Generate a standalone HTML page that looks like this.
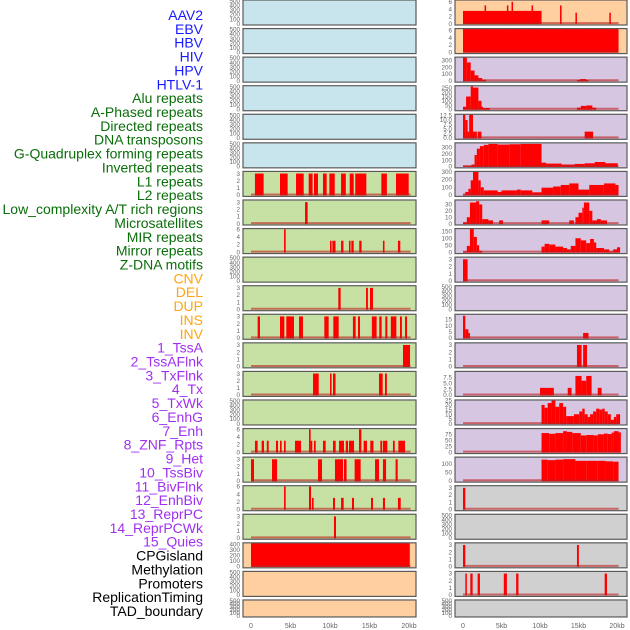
<!DOCTYPE html>
<html><head><meta charset="utf-8">
<style>
html,body{margin:0;padding:0;background:#fff;}
svg{display:block;font-family:"Liberation Sans",sans-serif;}
</style></head>
<body>
<svg id="chart" width="630" height="630" viewBox="0 0 630 630" xmlns="http://www.w3.org/2000/svg">
<g id="labels"></g>
<g id="panels"></g>
<g id="xaxes"></g>
</svg>
<script>
const featureLabels = ["AAV2","EBV","HBV","HIV","HPV","HTLV-1","Alu repeats","A-Phased repeats","Directed repeats","DNA transposons","G-Quadruplex forming repeats","Inverted repeats","L1 repeats","L2 repeats","Low_complexity A/T rich regions","Microsatellites","MIR repeats","Mirror repeats","Z-DNA motifs","CNV","DEL","DUP","INS","INV","1_TssA","2_TssAFlnk","3_TxFlnk","4_Tx","5_TxWk","6_EnhG","7_Enh","8_ZNF_Rpts","9_Het","10_TssBiv","11_BivFlnk","12_EnhBiv","13_ReprPC","14_ReprPCWk","15_Quies","CPGisland","Methylation","Promoters","ReplicationTiming","TAD_boundary"];
const labelGroupSizes = [6,13,5,15,5];
const labelGroupColors = ["#1a1aff","#0a6e0a","#ffa510","#a030f0","#000000"];
const xTickValues = [0,5,10,15,20];
const xTickLabels = ["0","5kb","10kb","15kb","20kb"];

const ticks500 = [0,100,200,300,400,500];
const ticks3 = [0,1,2,3];
const ticks6 = [0,2,4,6];

const left06 = [[0.5,1.6,3],[3.67,4.64,3],[5.7,6.67,3],[7.3,7.8,3],[7.97,8.48,3],[9.11,9.58,3],[9.92,10.6,3],[11.4,12.0,3],[12.5,13.0,3],[13.2,14.6,3],[16.5,17.2,3],[18.35,19.96,3]];
const left07 = [[6.84,7.17,3]];
const left08 = [[4.18,4.39,6],[10.0,10.2,3],[10.3,10.7,3],[11.4,11.7,3],[12.4,12.6,3],[12.7,13.0,3],[13.7,14.0,3],[16.7,16.9,3],[18.6,18.9,3]];
const left10 = [[11.05,11.35,3],[14.56,14.8,3],[15.06,15.44,3]];
const left11 = [[0.84,1.14,3],[3.67,4.22,3],[4.47,5.44,3],[6.08,6.58,3],[9.28,9.83,3],[10.42,11.1,3],[12.9,13.25,3],[13.54,13.8,3],[15.3,15.9,3],[16.24,16.54,3],[17.0,17.26,3],[17.7,18.4,3],[18.86,19.1,3],[19.5,19.75,3]];
const left12 = [[19.24,20.13,3]];
const left13 = [[7.85,8.57,3],[10.0,10.2,3],[10.38,10.7,3],[16.2,16.67,3],[16.96,17.2,3]];
const left15 = [[0.5,0.84,3],[1.35,1.65,3],[2.0,2.24,3],[3.16,3.42,3],[3.67,3.88,3],[4.18,4.39,3],[5.57,6.33,3],[7.34,7.55,6],[7.55,7.76,3],[7.97,8.19,3],[9.11,9.45,3],[10.38,10.72,3],[11.14,11.77,3],[12.0,12.28,3],[12.4,13.04,3],[13.67,13.97,6],[14.26,14.68,3],[15.1,15.5,3],[16.37,16.6,3],[16.7,17.26,3],[17.97,18.2,3],[18.65,19.5,3]];
const left16 = [[0,0.38,3],[2.66,3.3,3],[8.48,8.99,3],[10.63,11.65,3],[11.77,12.1,3],[13.12,13.88,3],[15.7,16.2,3],[16.7,17.1,3],[18.3,18.57,3]];
const left17 = [[4.18,4.39,6],[7.34,7.6,6],[7.72,7.93,3],[10.38,10.63,3],[11.4,11.73,3],[12.78,13.04,3],[15.19,15.44,3],[16.7,16.96,3],[18.6,18.95,3]];
const left18 = [[10.5,10.76,3]];
const left19 = [[0,20.1,440]];

const right00 = [[0,10.2,3.5],[2.8,3.0,5],[5.7,5.9,5],[6.3,6.5,6],[8.9,9.1,5],[12.6,12.8,5],[14.6,14.8,3],[19.0,19.2,3]];
const right01 = [[0,20.2,7]];
const right02 = [[0,0.5,345],[0.5,1.0,270],[1.0,1.5,150],[1.5,2.0,80],[2.0,2.5,40],[2.5,3.0,15],[14.8,15.2,10],[15.2,16.0,25],[16.0,16.3,10]];
const right03 = [[0,0.4,30],[0.4,1.0,150],[1.0,1.3,270],[1.3,2.0,255],[2.0,2.4,100],[2.4,2.6,30],[2.6,3.5,15],[14.8,15.3,20],[15.3,16.0,40],[16.0,16.8,45],[16.8,17.3,20]];
const right04 = [[0,0.3,13],[0.3,0.6,10],[0.6,0.8,3.5],[0.8,1.3,13],[1.3,1.8,3.5],[1.9,2.4,3.5],[15.8,16.9,3.5]];
const right05 = [[0,1.1,5],[1.1,1.5,30],[1.5,1.8,180],[1.8,2.2,280],[2.2,2.7,320],[2.7,3.3,340],[3.3,4.5,355],[4.5,6.0,345],[6.0,7.5,350],[7.5,10.2,355],[10.2,10.8,60],[10.8,12.8,45],[12.8,14.5,30],[14.5,15.8,40],[15.8,17.1,50],[17.1,18.5,70],[18.5,20.1,50]];
const right06 = [[0,0.3,10],[0.3,0.7,40],[0.7,1.0,80],[1.0,1.3,190],[1.3,2.0,300],[2.0,2.3,190],[2.3,2.7,100],[2.7,4.5,60],[4.5,5.0,40],[5.0,7.0,60],[7.0,7.5,70],[7.5,9.0,60],[9.0,10.2,35],[10.2,11.7,95],[11.7,12.7,110],[12.7,13.8,130],[13.8,15.0,150],[15.0,16.4,70],[16.4,18.3,130],[18.3,19.8,150],[19.8,20.2,130]];
const right07 = [[0,0.5,2],[0.5,0.9,10],[0.9,1.7,33],[1.7,2.1,35],[2.1,2.5,30],[2.5,3.3,7],[3.3,3.9,5],[4.7,5.2,5],[10.2,11.2,5],[13.8,14.4,5],[14.6,15.0,10],[15.0,15.5,17],[15.5,15.7,25],[15.7,16.4,33],[16.4,16.8,20],[16.8,17.4,5],[17.4,17.9,7],[17.9,18.7,5]];
const right08 = [[0,0.5,5],[0.5,0.9,45],[0.9,1.4,170],[1.4,1.8,110],[1.8,2.1,50],[2.1,2.5,10],[10.2,10.6,40],[10.6,11.2,60],[11.2,12.0,55],[12.0,13.0,40],[13.0,13.5,30],[13.5,14.0,20],[14.0,14.6,45],[14.6,15.3,100],[15.3,16.0,85],[16.0,16.5,65],[16.5,17.0,95],[17.0,17.3,70],[17.3,18.3,30],[18.3,19.0,20],[19.0,19.5,5],[19.5,20.0,20],[20.0,20.4,35]];
const right09 = [[0,0.6,3]];
const right11 = [[0,0.3,18],[0.3,0.7,7],[0.7,0.9,4],[15.6,16.3,4]];
const right12 = [[14.8,15.4,3],[15.6,16.1,3]];
const right13 = [[10.0,11.8,3],[13.6,14.1,3],[14.6,15.4,8],[15.4,16.0,6],[16.0,16.7,8],[17.5,18.0,3]];
const right14 = [[10.2,10.6,20],[10.6,11.0,17],[11.0,11.5,22],[11.5,12.0,25],[12.0,12.5,18],[12.5,13.0,22],[13.0,13.4,18],[13.4,14.4,8],[14.4,15.1,10],[15.1,15.5,13],[15.5,15.8,16],[15.8,16.2,10],[16.2,16.5,7],[16.5,16.9,10],[16.9,17.3,13],[17.3,17.7,16],[17.7,18.1,15],[18.1,18.4,16],[18.4,18.8,13],[18.8,19.2,10],[19.2,19.6,4],[19.6,19.9,7],[19.9,20.4,10]];
const right15 = [[10.2,11.2,80],[11.2,12.0,77],[12.0,13.0,80],[13.0,13.5,88],[13.5,14.2,85],[14.2,15.3,80],[15.3,16.0,70],[16.0,17.0,72],[17.0,17.5,70],[17.5,18.3,75],[18.3,18.8,78],[18.8,19.3,76],[19.3,19.6,82],[19.6,20.2,88],[20.2,20.5,83]];
const right16 = [[10.2,11.0,125],[11.0,12.0,122],[12.0,13.0,125],[13.0,14.6,128],[14.6,16.0,118],[16.0,17.5,118],[17.5,18.5,118],[18.5,19.5,115],[19.5,20.2,113]];
const right17 = [[0,0.3,3]];
const right19 = [[0,0.3,3],[14.8,15.05,3]];
const right20 = [[0.3,0.5,3],[0.95,1.25,3],[1.9,2.2,3],[5.3,5.7,3],[6.9,7.2,3],[18.4,18.7,3]];

const BLUE="#c8e4ec", GREEN="#c7e1a5", PEACH="#ffcf9f", LAV="#d6c6e2", GRAY="#d0d0d0";
const panelDefs = [
 ["left",0,BLUE,520,ticks500,null,null],["left",1,BLUE,520,ticks500,null,null],["left",2,BLUE,520,ticks500,null,null],
 ["left",3,BLUE,520,ticks500,null,null],["left",4,BLUE,520,ticks500,null,null],["left",5,BLUE,520,ticks500,null,null],
 ["left",6,GREEN,3.3,ticks3,null,left06],["left",7,GREEN,3.3,ticks3,null,left07],["left",8,GREEN,6.2,ticks6,null,left08],
 ["left",9,GREEN,520,ticks500,null,null],["left",10,GREEN,3.3,ticks3,null,left10],["left",11,GREEN,3.3,ticks3,null,left11],
 ["left",12,GREEN,3.3,ticks3,null,left12],["left",13,GREEN,3.3,ticks3,null,left13],["left",14,GREEN,520,ticks500,null,null],
 ["left",15,GREEN,6.2,ticks6,null,left15],["left",16,GREEN,3.3,ticks3,null,left16],["left",17,GREEN,6.2,ticks6,null,left17],
 ["left",18,GREEN,3.3,ticks3,null,left18],["left",19,PEACH,429,[0,100,200,300,400],null,left19],
 ["left",20,PEACH,520,ticks500,null,null],["left",21,PEACH,520,ticks500,null,null],
 ["right",0,PEACH,6.5,ticks6,null,right00],["right",1,PEACH,6.5,ticks6,null,right01],
 ["right",2,LAV,348,[0,100,200,300],null,right02],["right",3,LAV,277,[0,50,100,150,200,250],null,right03],
 ["right",4,LAV,13.2,[0,2.5,5,7.5,10,12.5],["0.0","2.5","5.0","7.5","10.0","12.5"],right04],
 ["right",5,LAV,372,[0,100,200,300],null,right05],["right",6,LAV,305,[0,100,200,300],null,right06],
 ["right",7,LAV,37,[0,10,20,30],null,right07],["right",8,LAV,170,[0,50,100,150],null,right08],
 ["right",9,LAV,3.3,ticks3,null,right09],["right",10,LAV,520,ticks500,null,null],
 ["right",11,LAV,19.2,[0,5,10,15],null,right11],["right",12,LAV,3.3,ticks3,null,right12],
 ["right",13,LAV,9.9,[0,2.5,5,7.5],["0.0","2.5","5.0","7.5"],right13],["right",14,LAV,25.3,[0,5,10,15,20,25],null,right14],
 ["right",15,LAV,99,[0,25,50,75],null,right15],["right",16,LAV,140,[0,50,100],null,right16],
 ["right",17,GRAY,3.3,ticks3,null,right17],["right",18,GRAY,520,ticks500,null,null],
 ["right",19,GRAY,3.3,ticks3,null,right19],["right",20,GRAY,3.3,ticks3,null,right20],["right",21,GRAY,520,ticks500,null,null]
];

const NS="http://www.w3.org/2000/svg";
function mk(tag, attrs, parent){const e=document.createElementNS(NS,tag);for(const k in attrs)e.setAttribute(k,attrs[k]);parent.appendChild(e);return e;}
const cols = {left:{x0:243,x1:416,z:251,t:409,tickX:240}, right:{x0:455,x1:627,z:463,t:617,tickX:452}};
function xScale(col,kb){const c=cols[col];return c.z+(c.t-c.z)*kb/20;}
function rowTop(r){return r*28.57;}
function rowHeight(r){return r===21?17:25;}

const lg=document.getElementById('labels');
let gi=0,cnt=0;
featureLabels.forEach((t,i)=>{
  while(cnt>=labelGroupSizes[gi]){gi++;cnt=0;}
  cnt++;
  const y=15+i*(596/43);
  const el=mk('text',{x:203,y:y+5,'text-anchor':'end','font-size':'14',fill:labelGroupColors[gi]},lg);
  
  
  el.textContent=t;
});

const pg=document.getElementById('panels');
panelDefs.forEach(d=>{
  const [col,row,bg,yMax,tks,tkl,data]=d;
  const c=cols[col], top=rowTop(row), h=rowHeight(row);
  const zeroY = top + h - 1.4;
  const yScale = v => zeroY - (zeroY-top)*v/yMax;
  const g=mk('g',{},pg);
  
  
  const bgr=mk('rect',{x:c.x0,y:top,width:c.x1-c.x0,height:h,fill:bg},g);
  
  
  const cp='clip-'+col+'-'+row;
  const clip=mk('clipPath',{id:cp},g);
  mk('rect',{x:c.x0,y:top,width:c.x1-c.x0,height:h},clip);
  const mg=mk('g',{'clip-path':'url(#'+cp+')'},g);
  if(data){
    data.forEach(s=>{
      const x1=xScale(col,s[0]), x2=xScale(col,s[1]);
      const yv=Math.max(yScale(s[2]),top);
      const r=mk('rect',{x:x1,y:yv,width:Math.max(x2-x1,1.5),height:zeroY-yv+0.5,fill:'#ff0000'},mg);
      
      
    });
    const bl=mk('line',{x1:xScale(col,0),x2:xScale(col,20.2),y1:zeroY-0.5,y2:zeroY-0.5,stroke:'rgba(190,30,30,0.6)','stroke-width':2},mg);
    
    
  }
  const br=mk('rect',{x:c.x0,y:top,width:c.x1-c.x0,height:h,fill:'none',stroke:'#5a5a5a','stroke-width':1.2},g);
  
  
  tks.forEach((v,i)=>{
    const t=mk('text',{x:c.tickX,y:yScale(v)+2.2,'text-anchor':'end','font-size':'6.3',fill:'#666'},g);
    
    
    t.textContent = tkl? tkl[i] : String(v);
  });
});

const xg=document.getElementById('xaxes');
['left','right'].forEach(col=>{
  xTickValues.forEach((v,i)=>{
    const t=mk('text',{x:xScale(col,v),y:628,'text-anchor':'middle','font-size':'7',fill:'#666'},xg);
    
    
    t.textContent=xTickLabels[i];
  });
});
</script>
</body></html>
